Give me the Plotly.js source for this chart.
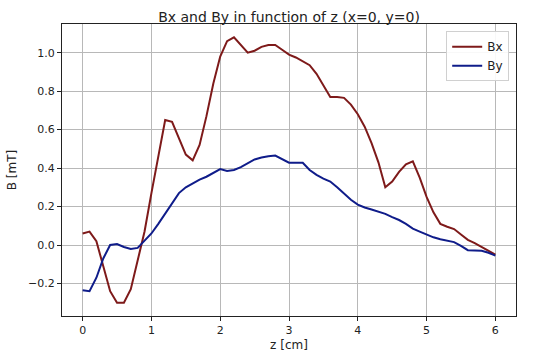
<!DOCTYPE html>
<html>
<head>
    <script src="https://cdn.plot.ly/plotly-3.0.1.min.js"></script>
    <style>
        body { margin: 0; background-color: white; }
        #chart { width: 550px; height: 359px; }
    </style>
</head>
<body>
    <div id="chart"></div>
    <script>
        // z positions along the axis [cm]
        const zValues = [0.0, 0.1, 0.2, 0.3, 0.4, 0.5, 0.6, 0.7, 0.8, 0.9,
            1.0, 1.1, 1.2, 1.3, 1.4, 1.5, 1.6, 1.7, 1.8, 1.9,
            2.0, 2.1, 2.2, 2.3, 2.4, 2.5, 2.6, 2.7, 2.8, 2.9,
            3.0, 3.1, 3.2, 3.3, 3.4, 3.5, 3.6, 3.7, 3.8, 3.9,
            4.0, 4.1, 4.2, 4.3, 4.4, 4.5, 4.6, 4.7, 4.8, 4.9,
            5.0, 5.1, 5.2, 5.3, 5.4, 5.5, 5.6, 5.7, 5.8, 5.9, 6.0];

        // Bx [mT]
        const bxValues = [0.06, 0.07, 0.02, -0.11, -0.24, -0.30, -0.30, -0.23, -0.08, 0.07,
            0.27, 0.46, 0.65, 0.64, 0.55, 0.47, 0.44, 0.52, 0.67, 0.84,
            0.98, 1.06, 1.08, 1.04, 1.00, 1.01, 1.03, 1.04, 1.04, 1.015,
            0.99, 0.975, 0.955, 0.935, 0.89, 0.83, 0.77, 0.77, 0.765, 0.73,
            0.68, 0.615, 0.53, 0.43, 0.30, 0.33, 0.38, 0.42, 0.435, 0.35,
            0.25, 0.17, 0.11, 0.095, 0.083, 0.055, 0.027, 0.01, -0.01, -0.03, -0.05];

        // By [mT]
        const byValues = [-0.235, -0.24, -0.17, -0.07, 0.0, 0.005, -0.01, -0.02, -0.015, 0.02,
            0.06, 0.11, 0.165, 0.22, 0.27, 0.30, 0.32, 0.34, 0.355, 0.375,
            0.395, 0.385, 0.39, 0.405, 0.425, 0.445, 0.455, 0.462, 0.465, 0.445,
            0.428, 0.428, 0.428, 0.39, 0.365, 0.345, 0.33, 0.30, 0.265, 0.235,
            0.21, 0.195, 0.185, 0.175, 0.162, 0.145, 0.13, 0.11, 0.085, 0.07,
            0.055, 0.04, 0.03, 0.022, 0.015, -0.005, -0.027, -0.028, -0.03, -0.04, -0.055];

        const xTicks = [0, 1, 2, 3, 4, 5, 6];
        const yTicks = [-0.2, 0.0, 0.2, 0.4, 0.6, 0.8, 1.0];
        const yTickLabels = ['−0.2', '0.0', '0.2', '0.4', '0.6', '0.8', '1.0'];

        const traceBx = {
            x: zValues, y: bxValues, name: 'Bx',
            type: 'scatter', mode: 'lines',
            line: {color: '#7e1a1a', width: 2}
        };
        const traceBy = {
            x: zValues, y: byValues, name: 'By',
            type: 'scatter', mode: 'lines',
            line: {color: '#0f1c8a', width: 2}
        };

        const axisCommon = {
            showgrid: true, gridcolor: '#b8b8b8', gridwidth: 1,
            zeroline: false, showline: true, linecolor: '#222', linewidth: 1,
            mirror: true, ticks: 'outside', ticklen: 4, tickcolor: '#222',
            tickfont: {size: 11, color: '#222'}
        };

        Plotly.newPlot('chart', [traceBx, traceBy], {
            width: 550, height: 359,
            font: {family: 'DejaVu Sans, sans-serif', color: '#222'},
            title: {text: 'Bx and By in function of z (x=0, y=0)', font: {size: 14},
                xref: 'paper', x: 0.5, xanchor: 'center', y: 0.965},
            margin: {l: 62, r: 34, t: 24, b: 43},
            paper_bgcolor: 'white', plot_bgcolor: 'white',
            xaxis: Object.assign({}, axisCommon, {
                range: [-0.3, 6.3], tickvals: xTicks,
                title: {text: 'z [cm]', font: {size: 12}, standoff: 4}
            }),
            yaxis: Object.assign({}, axisCommon, {
                range: [-0.369, 1.149], tickvals: yTicks, ticktext: yTickLabels,
                title: {text: 'B [mT]', font: {size: 12}, standoff: 8}
            }),
            legend: {
                x: 0.985, y: 0.975, xanchor: 'right', yanchor: 'top',
                bgcolor: 'rgba(255,255,255,0.9)', bordercolor: '#d0d0d0', borderwidth: 1,
                font: {size: 12}, tracegroupgap: 0
            },
            showlegend: true
        }, {displayModeBar: false});
    </script>
</body>
</html>
